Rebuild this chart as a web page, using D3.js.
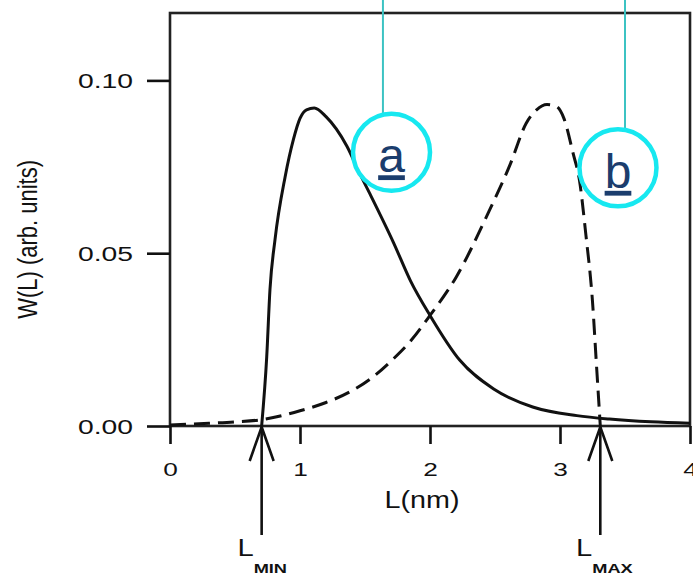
<!DOCTYPE html>
<html>

<head>
  <meta charset="utf-8" />
  <title>W(L) distributions</title>
  <style>
    body {
      margin: 0;
      background: white;
    }

    svg text {
      font-family: "Liberation Sans", Arial, sans-serif;
      fill: #111;
    }

    .curve {
      fill: none;
      stroke: #111;
      stroke-width: 3px;
    }
  </style>
</head>

<body>
  <svg></svg>

  <script src="https://d3js.org/d3.v7.min.js"></script>
  <script>
    // curve a (solid)
    var lenA = [0.705, 0.744, 0.769, 0.808, 0.885, 0.95, 1.0, 1.05, 1.11, 1.2, 1.36, 1.46, 1.54, 1.72, 1.85, 2.0, 2.23, 2.49, 2.79, 3.13, 3.38, 3.7, 4.0];
    var wA = [0, 0.020, 0.0395, 0.054, 0.072, 0.083, 0.089, 0.0915, 0.092, 0.0895, 0.081, 0.073, 0.067, 0.053, 0.042, 0.032, 0.019, 0.0107, 0.0055, 0.003, 0.002, 0.0012, 0.0008];

    // curve b (dashed)
    var lenB = [0, 0.3, 0.5, 0.7, 1.0, 1.2, 1.38, 1.54, 1.72, 1.86, 2.0, 2.2, 2.44, 2.62, 2.74, 2.82, 2.9, 2.97, 3.03, 3.1, 3.15, 3.2, 3.25, 3.28, 3.31];
    var wB = [0.0003, 0.0008, 0.0012, 0.0018, 0.0044, 0.0068, 0.0098, 0.0136, 0.0195, 0.025, 0.032, 0.043, 0.061, 0.076, 0.0876, 0.0915, 0.093, 0.0925, 0.089, 0.079, 0.071, 0.055, 0.036, 0.018, 0];

    var xTicks = [0, 1, 2, 3, 4];
    var yTicks = [0, 0.05, 0.10];

    // L_MIN / L_MAX arrows
    var limitNames = ["MIN", "MAX"];
    var limitValues = [0.705, 3.31];

    // callout circles: label, anchor (L, W), L of the leader line
    var calloutLabels = ["a", "b"];
    var calloutL = [1.704, 3.446];
    var calloutW = [0.0792, 0.0747];
    var calloutLineL = [1.638, 3.5];

    var width = 693,
      height = 576;
    var stretch = 1.38; // text in the picture is wider than normal

    var svg = d3.select("svg")
      .attr("width", width)
      .attr("height", height);

    var x = d3.scaleLinear().domain([0, 4]).range([170, 690]);
    var y = d3.scaleLinear().domain([0, 0.1195]).range([426, 13]);

    // frame
    svg.append("rect")
      .attr("x", x(0))
      .attr("y", y(0.1195))
      .attr("width", x(4) - x(0))
      .attr("height", y(0) - y(0.1195))
      .attr("fill", "none")
      .attr("stroke", "#222")
      .attr("stroke-width", 2.6);

    var xAxis = svg.append("g")
      .attr("transform", "translate(0," + y(0) + ")")
      .call(d3.axisBottom(x).tickValues(xTicks).tickSize(18).tickFormat(d3.format("d")));
    xAxis.select(".domain").remove();
    xAxis.selectAll("line").attr("stroke", "#111").attr("stroke-width", 2.6);
    xAxis.selectAll("text")
      .attr("y", 50)
      .attr("dy", 0)
      .attr("font-size", 19)
      .attr("fill", "#111")
      .attr("transform", "scale(" + stretch + ",1)");

    var yAxis = svg.append("g")
      .attr("transform", "translate(" + x(0) + ",0)")
      .call(d3.axisLeft(y).tickValues(yTicks).tickSize(23).tickFormat(d3.format(".2f")));
    yAxis.select(".domain").remove();
    yAxis.selectAll("line").attr("stroke", "#111").attr("stroke-width", 2.6);
    yAxis.selectAll("text")
      .attr("x", -37 / stretch)
      .attr("dy", "0.36em")
      .attr("font-size", 20.5)
      .attr("fill", "#111")
      .attr("transform", "scale(" + stretch + ",1)");

    // axis titles
    svg.append("text")
      .attr("transform", "translate(" + (x(2) - 8) + ",508) scale(1.25,1)")
      .attr("text-anchor", "middle")
      .attr("font-size", 23)
      .text("L(nm)");

    svg.append("text")
      .attr("transform", "translate(37," + y(0.054) + ") rotate(-90) scale(1,1.25)")
      .attr("text-anchor", "middle")
      .attr("font-size", 22)
      .text("W(L) (arb. units)");

    // curves
    var line = d3.line()
      .curve(d3.curveMonotoneX)
      .x(d => x(d[0]))
      .y(d => y(d[1]));

    svg.append("path")
      .attr("class", "curve")
      .attr("d", line(d3.zip(lenA, wA)));

    svg.append("path")
      .attr("class", "curve")
      .attr("stroke-dasharray", "16,8")
      .attr("d", line(d3.zip(lenB, wB)));

    // limit arrows
    var limits = svg.append("g")
      .selectAll("g")
      .data(d3.zip(limitNames, limitValues))
      .enter()
      .append("g")
      .attr("transform", d => "translate(" + x(d[1]) + ",0)");

    limits.append("line")
      .attr("y1", 535)
      .attr("y2", y(0) + 1)
      .attr("stroke", "#111")
      .attr("stroke-width", 2.6);

    limits.append("polyline")
      .attr("points", "-12,461 0," + (y(0) + 1) + " 12,461")
      .attr("fill", "none")
      .attr("stroke", "#111")
      .attr("stroke-width", 2.6);

    limits.append("text")
      .attr("transform", "translate(-8,556) scale(1.27,1)")
      .attr("text-anchor", "end")
      .attr("font-size", 23)
      .text("L");

    limits.append("text")
      .attr("transform", "translate(-8,573) scale(1.35,1)")
      .attr("font-size", 13.5)
      .attr("font-weight", "bold")
      .text(d => d[0]);

    // callouts
    var callouts = svg.append("g")
      .selectAll("g")
      .data(d3.range(calloutLabels.length))
      .enter()
      .append("g");

    callouts.append("line")
      .attr("x1", i => x(calloutLineL[i]))
      .attr("x2", i => x(calloutLineL[i]))
      .attr("y1", 0)
      .attr("y2", i => y(calloutW[i]))
      .attr("stroke", "#3cc3c3")
      .attr("stroke-width", 2);

    callouts.append("circle")
      .attr("cx", i => x(calloutL[i]))
      .attr("cy", i => y(calloutW[i]))
      .attr("r", 38.5)
      .attr("fill", "white")
      .attr("stroke", "#17e8f0")
      .attr("stroke-width", 4.5);

    callouts.append("text")
      .attr("x", i => x(calloutL[i]))
      .attr("y", i => y(calloutW[i]) + 20)
      .attr("text-anchor", "middle")
      .attr("font-size", 48)
      .style("fill", "#1b3d6d")
      .style("text-decoration", "underline")
      .text(i => calloutLabels[i]);
  </script>
</body>

</html>
